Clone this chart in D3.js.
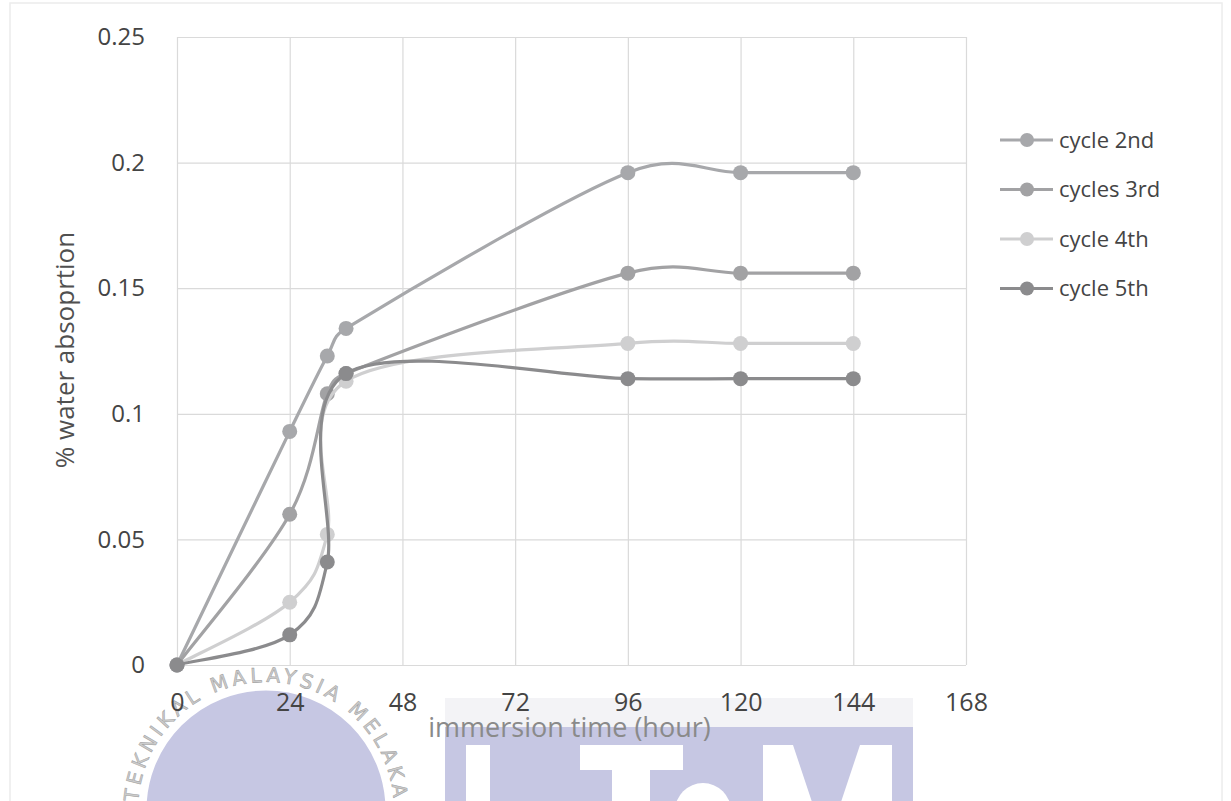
<!DOCTYPE html>
<html>
<head>
<meta charset="utf-8">
<script src="https://cdn.jsdelivr.net/npm/d3@7"></script>
<style>
  body { margin: 0; background: #fff; }
  svg { display: block; font-family: "Open Sans", sans-serif; }
</style>
</head>
<body>
<svg id="mainFrame"></svg>
<script>
// data
const hours = [0, 24, 32, 36, 96, 120, 144];
const cycle2nd = [0, 0.093, 0.123, 0.134, 0.196, 0.196, 0.196];
const cycle3rd = [0, 0.060, 0.108, 0.116, 0.156, 0.156, 0.156];
const cycle4th = [0, 0.025, 0.052, 0.113, 0.128, 0.128, 0.128];
const cycle5th = [0, 0.012, 0.041, 0.116, 0.114, 0.114, 0.114];
const seriesNames = ['cycle 2nd', 'cycles 3rd', 'cycle 4th', 'cycle 5th'];
const seriesColors = ['#a7a8ab', '#a2a2a4', '#cfcfd0', '#8b8b8d'];
const xTicks = [0, 24, 48, 72, 96, 120, 144, 168];
const yTicks = [0, 0.05, 0.1, 0.15, 0.2, 0.25];

const W = 1231, H = 801;
const svg = d3.select('#mainFrame')
    .attr('width', W)
    .attr('height', H);

const margin = { top: 37, left: 177, right: 265, bottom: 136 };
const innerWidth = W - margin.left - margin.right;
const innerHeight = H - margin.top - margin.bottom;

// spreadsheet-style smoothing: catmull-rom arms (1/6 of neighbour span),
// each arm capped at half of the segment it belongs to
function CurveSmooth(context) { this._context = context; }
CurveSmooth.prototype = {
    areaStart() { this._line = 0; },
    areaEnd() { this._line = NaN; },
    lineStart() { this._pts = []; },
    point(x, y) { this._pts.push([+x, +y]); },
    lineEnd() {
        const p = this._pts, n = p.length, ctx = this._context;
        if (!n) return;
        ctx.moveTo(p[0][0], p[0][1]);
        if (n === 1) return;
        const arm = i => {
            const a = p[Math.max(i - 1, 0)], b = p[Math.min(i + 1, n - 1)];
            return [(b[0] - a[0]) / 6, (b[1] - a[1]) / 6];
        };
        const cap = (v, lim) => {
            const len = Math.hypot(v[0], v[1]);
            return len > lim ? [v[0] * lim / len, v[1] * lim / len] : v;
        };
        for (let i = 0; i < n - 1; i++) {
            const L = Math.hypot(p[i + 1][0] - p[i][0], p[i + 1][1] - p[i][1]);
            const a0 = cap(arm(i), L / 2), a1 = cap(arm(i + 1), L / 2);
            ctx.bezierCurveTo(
                p[i][0] + a0[0], p[i][1] + a0[1],
                p[i + 1][0] - a1[0], p[i + 1][1] - a1[1],
                p[i + 1][0], p[i + 1][1]);
        }
    }
};
const curveSmooth = context => new CurveSmooth(context);

// faint page edge from the scan
svg.append('rect')
    .attr('x', 10).attr('y', 3)
    .attr('width', 1212).attr('height', 810)
    .attr('fill', 'none')
    .attr('stroke', '#ececec')
    .attr('stroke-width', 1.5);

// --- watermark (drawn under the chart) ---
const wm = svg.append('g').attr('class', 'watermark');
const lav = '#c6c7e3';
const cx = 266, cy = 810, r = 121;

wm.append('circle')
    .attr('cx', cx).attr('cy', cy).attr('r', r)
    .attr('fill', lav)
    .attr('stroke', '#fff')
    .attr('stroke-width', 3);

const rt = 128;
wm.append('path')
    .attr('id', 'ring')
    .attr('fill', 'none')
    .attr('d', `M${cx},${cy + rt} A${rt},${rt} 0 0 1 ${cx},${cy - rt} A${rt},${rt} 0 0 1 ${cx},${cy + rt}`);

wm.append('text')
    .attr('font-family', 'DejaVu Sans, sans-serif')
    .attr('font-size', 20)
    .attr('letter-spacing', 4)
    .attr('fill', '#cdcdcd')
    .attr('stroke', '#a5a5a5')
    .attr('stroke-width', 0.6)
    .append('textPath')
        .attr('href', '#ring')
        .attr('startOffset', '50%')
        .attr('text-anchor', 'middle')
        .text('TEKNIKAL MALAYSIA MELAKA');

// band + block with the letters cut out in white
wm.append('rect').attr('x', 445).attr('y', 698).attr('width', 468).attr('height', 29).attr('fill', '#f3f3f6');
wm.append('rect').attr('x', 445).attr('y', 727).attr('width', 468).attr('height', 80).attr('fill', lav);
const white = '#fff';
wm.append('rect').attr('x', 466).attr('y', 745).attr('width', 24).attr('height', 60).attr('fill', white);   // U
wm.append('rect').attr('x', 580).attr('y', 745).attr('width', 103).attr('height', 25).attr('fill', white);  // T bar
wm.append('rect').attr('x', 612).attr('y', 769).attr('width', 38).attr('height', 40).attr('fill', white);   // T stem
wm.append('circle').attr('cx', 703).attr('cy', 811).attr('r', 28).attr('fill', white);                     // e
wm.append('path')                                                                                            // M
    .attr('d', 'M763,745 L892,745 L892,805 L763,805 Z M793,745 L813,805 L840,805 L860,745 Z')
    .attr('fill', white)
    .attr('fill-rule', 'evenodd');

// --- chart ---
const xScale = d3.scaleLinear()
    .domain([0, 168])
    .range([0, innerWidth]);

const yScale = d3.scaleLinear()
    .domain([0, 0.25])
    .range([innerHeight, 0]);

const g = svg.append('g')
    .attr('transform', `translate(${margin.left},${margin.top})`);

// gridlines
g.append('g')
    .call(d3.axisBottom(xScale).tickValues(xTicks).tickSize(-innerHeight).tickFormat(''))
    .attr('transform', `translate(0,${innerHeight})`)
    .call(ax => ax.select('.domain').remove())
    .selectAll('.tick line')
        .attr('stroke', '#dadada')
        .attr('stroke-width', 1.2);

g.append('g')
    .call(d3.axisLeft(yScale).tickValues(yTicks).tickSize(-innerWidth).tickFormat(''))
    .call(ax => ax.select('.domain').remove())
    .selectAll('.tick line')
        .attr('stroke', '#dadada')
        .attr('stroke-width', 1.2);

// tick labels
const xAxisG = g.append('g')
    .attr('transform', `translate(0,${innerHeight})`)
    .call(d3.axisBottom(xScale).tickValues(xTicks).tickSize(0).tickPadding(28));
xAxisG.select('.domain').remove();
xAxisG.selectAll('text')
    .attr('font-family', 'Open Sans, sans-serif')
    .attr('font-size', 25)
    .attr('fill', '#444');

const yAxisG = g.append('g')
    .call(d3.axisLeft(yScale).tickValues(yTicks).tickSize(0).tickPadding(32)
        .tickFormat(d => d === 0 ? '0' : d3.format('~g')(d)));
yAxisG.select('.domain').remove();
yAxisG.selectAll('text')
    .attr('font-family', 'Open Sans, sans-serif')
    .attr('font-size', 24)
    .attr('fill', '#444');

// axis titles
g.append('text')
    .attr('x', innerWidth / 2 - 2)
    .attr('y', innerHeight + 63)
    .attr('dy', '0.35em')
    .attr('text-anchor', 'middle')
    .attr('font-size', 27)
    .attr('fill', '#8a8a8a')
    .text('immersion time (hour)');

g.append('text')
    .attr('transform', `translate(${-112},${313}) rotate(-90)`)
    .attr('text-anchor', 'middle')
    .attr('dy', '0.35em')
    .attr('font-size', 26)
    .attr('fill', '#505050')
    .text('% water absoprtion');

// series
const allSeries = [cycle2nd, cycle3rd, cycle4th, cycle5th].map((vals, i) => ({
    name: seriesNames[i],
    color: seriesColors[i],
    points: hours.map((h, j) => ({ x: h, y: vals[j] }))
}));

const line = d3.line()
    .x(d => xScale(d.x))
    .y(d => yScale(d.y))
    .curve(curveSmooth);

const seriesG = g.selectAll('.series').data(allSeries)
    .enter().append('g')
        .attr('class', 'series');

seriesG.append('path')
    .attr('d', d => line(d.points))
    .attr('fill', 'none')
    .attr('stroke', d => d.color)
    .attr('stroke-width', 3.2)
    .attr('stroke-linecap', 'round');

seriesG.selectAll('circle').data(d => d.points.map(p => ({ ...p, color: d.color })))
    .enter().append('circle')
        .attr('cx', d => xScale(d.x))
        .attr('cy', d => yScale(d.y))
        .attr('r', 7.5)
        .attr('fill', d => d.color);

// legend
const legend = svg.append('g')
    .attr('transform', 'translate(1000,140)');

const legendRows = legend.selectAll('g').data(allSeries)
    .enter().append('g')
        .attr('transform', (d, i) => `translate(0,${i * 49.5})`);

legendRows.append('line')
    .attr('x1', 0).attr('x2', 53)
    .attr('stroke', d => d.color)
    .attr('stroke-width', 3.2);

legendRows.append('circle')
    .attr('cx', 27)
    .attr('r', 7)
    .attr('fill', d => d.color);

legendRows.append('text')
    .attr('x', 59)
    .attr('dy', '0.35em')
    .attr('font-size', 22)
    .attr('fill', '#444')
    .text(d => d.name);
</script>
</body>
</html>
